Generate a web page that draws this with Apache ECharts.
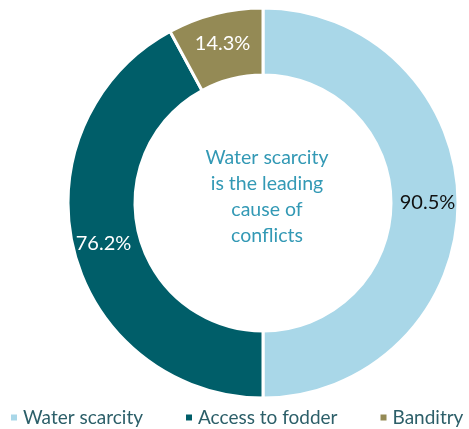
<!DOCTYPE html>
<html>
<head>
<meta charset="utf-8">
<script src="https://cdn.jsdelivr.net/npm/echarts@6/dist/echarts.min.js"></script>
<style>
  html, body { margin: 0; padding: 0; background: #fff; }
  #chart { width: 469px; height: 429px; }
</style>
</head>
<body>
<div id="chart"></div>
<script>
// Share of respondents citing each cause of conflict (%)
const categories = ['Water scarcity', 'Access to fodder', 'Banditry'];
const values = [90.5, 76.2, 14.3];
const colors = ['#A9D7E8', '#005E69', '#948A55'];
const labelColors = ['#111111', '#ffffff', '#ffffff'];

const FONT = 'Lato, "Open Sans", sans-serif';

const chart = echarts.init(document.getElementById('chart'), null, { renderer: 'canvas' });

chart.setOption({
  animation: false,
  color: colors,
  title: {
    text: 'Water scarcity\nis the leading\ncause of\nconflicts',
    left: 262,
    top: 140,
    textAlign: 'center',
    textStyle: {
      color: '#3399B5',
      fontFamily: FONT,
      fontSize: 19.5,
      fontWeight: 'normal',
      lineHeight: 26,
      align: 'center'
    }
  },
  legend: {
    data: categories,
    orient: 'horizontal',
    top: 408,
    left: 9,
    width: 700,
    padding: 0,
    icon: 'rect',
    itemWidth: 8,
    itemHeight: 8,
    itemGap: 41,
    textStyle: {
      color: '#2C5F69',
      fontFamily: FONT,
      fontSize: 19
    }
  },
  series: [{
    type: 'pie',
    center: [263, 203],
    radius: [128, 195],
    startAngle: 90,
    clockwise: true,
    avoidLabelOverlap: false,
    itemStyle: { borderColor: '#ffffff', borderWidth: 3 },
    label: {
      show: true,
      position: 'inside',
      fontFamily: FONT,
      fontSize: 20,
      formatter: p => p.value.toFixed(1) + '%'
    },
    labelLine: { show: false },
    emphasis: { disabled: true },
    data: categories.map((name, i) => ({
      name,
      value: values[i],
      label: { color: labelColors[i] }
    }))
  }]
});
</script>
</body>
</html>
